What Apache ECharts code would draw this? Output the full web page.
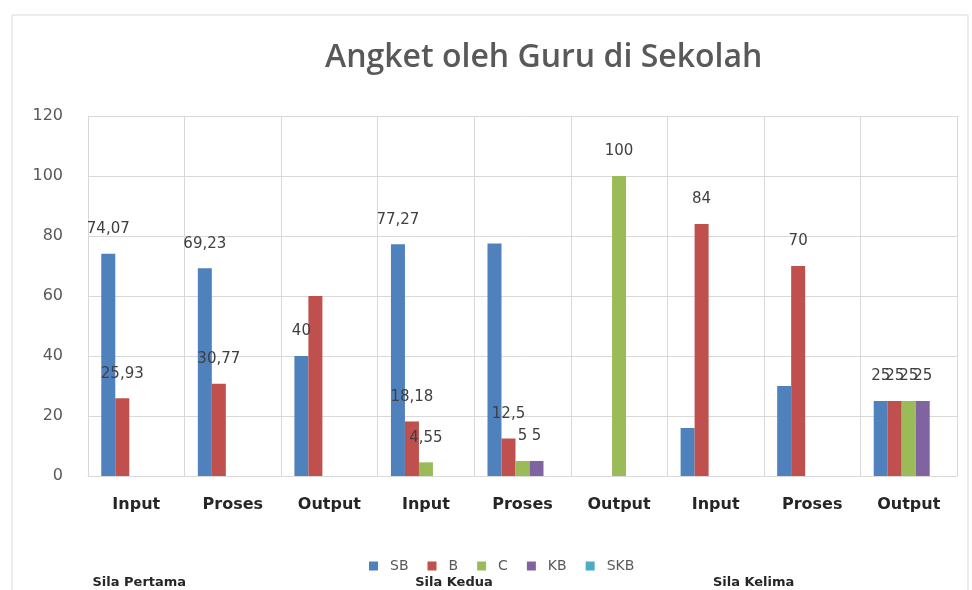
<!DOCTYPE html>
<html>
<head>
<meta charset="utf-8">
<script src="https://cdn.jsdelivr.net/npm/echarts@6/dist/echarts.min.js"></script>
<style>
  html, body { margin: 0; padding: 0; background: #fff; }
  #main { width: 972px; height: 590px; }
</style>
</head>
<body>
<div id="main"></div>
<script>
// data
var categories = ['Input', 'Proses', 'Output', 'Input', 'Proses', 'Output', 'Input', 'Proses', 'Output'];
var groups = ['Sila Pertama', '', '', 'Sila Kedua', '', '', 'Sila Kelima', '', ''];
var seriesNames = ['SB', 'B', 'C', 'KB', 'SKB'];

var sb = [74.07, 69.23, 40, 77.27, 77.5, 0, 16, 30, 25];
var b = [25.93, 30.77, 60, 18.18, 12.5, 0, 84, 70, 25];
var c = [0, 0, 0, 4.55, 5, 100, 0, 0, 25];
var kb = [0, 0, 0, 0, 5, 0, 0, 0, 25];
var skb = [0, 0, 0, 0, 0, 0, 0, 0, 0];

// data labels as they appear in the picture (empty = no label)
var sbLabels = ['74,07', '69,23', '40', '77,27', '', '', '', '', '25'];
var bLabels = ['25,93', '30,77', '', '18,18', '12,5', '', '84', '70', '25'];
var cLabels = ['', '', '', '4,55', '5', '100', '', '', '25'];
var kbLabels = ['', '', '', '', '5', '', '', '', '25'];
var skbLabels = ['', '', '', '', '', '', '', '', ''];

var yTicks = [0, 20, 40, 60, 80, 100, 120];

var colors = ['#4F81BD', '#C0504D', '#9BBB59', '#8064A2', '#4BACC6'];
var values = [sb, b, c, kb, skb];
var labels = [sbLabels, bLabels, cLabels, kbLabels, skbLabels];

// the group captions sit a bit right of the category centre in the picture
var groupShift = [3, 0, 0, 28, 0, 0, 38, 0, 0];

var myChart = echarts.init(document.getElementById('main'));

var series = seriesNames.map(function (name, i) {
  return {
    name: name,
    type: 'bar',
    barWidth: 14,
    barGap: '0%',
    itemStyle: { color: colors[i] },
    label: {
      show: true,
      position: 'top',
      distance: 17,
      color: '#404040',
      fontFamily: 'DejaVu Sans',
      fontSize: 15,
      formatter: function (p) {
        return labels[i][p.dataIndex];
      }
    },
    data: values[i]
  };
});

var groupData = groups.map(function (g, i) {
  return {
    value: g,
    textStyle: { padding: [0, 0, 0, groupShift[i] * 2] }
  };
});

var option = {
  backgroundColor: '#fff',
  animation: false,
  color: colors,
  title: {
    text: 'Angket oleh Guru di Sekolah',
    left: 320,
    top: 37,
    textStyle: {
      fontFamily: 'Open Sans',
      fontSize: 32,
      fontWeight: 600,
      color: '#595959'
    }
  },
  legend: {
    data: seriesNames,
    top: 554,
    left: 364,
    itemWidth: 9,
    itemHeight: 9,
    itemGap: 19,
    icon: 'rect',
    textStyle: {
      fontFamily: 'DejaVu Sans',
      fontSize: 14,
      color: '#595959',
      padding: [0, 0, 0, 7]
    }
  },
  graphic: [{
    type: 'rect',
    shape: { x: 12, y: 15, width: 956, height: 600 },
    style: { fill: 'none', stroke: '#d9d9d9', lineWidth: 1 },
    silent: true
  }],
  grid: {
    left: 88,
    right: 15,
    top: 116,
    bottom: 114,
    containLabel: false
  },
  xAxis: [{
    type: 'category',
    data: categories,
    axisLine: { show: true, lineStyle: { color: '#d9d9d9' } },
    axisTick: { show: false },
    splitLine: { show: true, lineStyle: { color: '#d9d9d9' } },
    axisLabel: {
      interval: 0,
      margin: 21,
      fontFamily: 'DejaVu Sans',
      fontWeight: 'bold',
      fontSize: 16,
      color: '#262626'
    }
  }, {
    type: 'category',
    data: groupData,
    position: 'bottom',
    axisLine: { show: false },
    axisTick: { show: false },
    splitLine: { show: false },
    axisLabel: {
      interval: 0,
      margin: 100,
      fontFamily: 'DejaVu Sans',
      fontWeight: 'bold',
      fontSize: 13,
      color: '#262626'
    }
  }],
  yAxis: {
    type: 'value',
    min: yTicks[0],
    max: yTicks[yTicks.length - 1],
    interval: 20,
    axisLine: { show: false },
    axisTick: { show: false },
    splitLine: { show: true, lineStyle: { color: '#d9d9d9' } },
    axisLabel: {
      margin: 25,
      fontFamily: 'DejaVu Sans',
      fontSize: 16,
      color: '#595959'
    }
  },
  series: series
};

myChart.setOption(option);
</script>
</body>
</html>
